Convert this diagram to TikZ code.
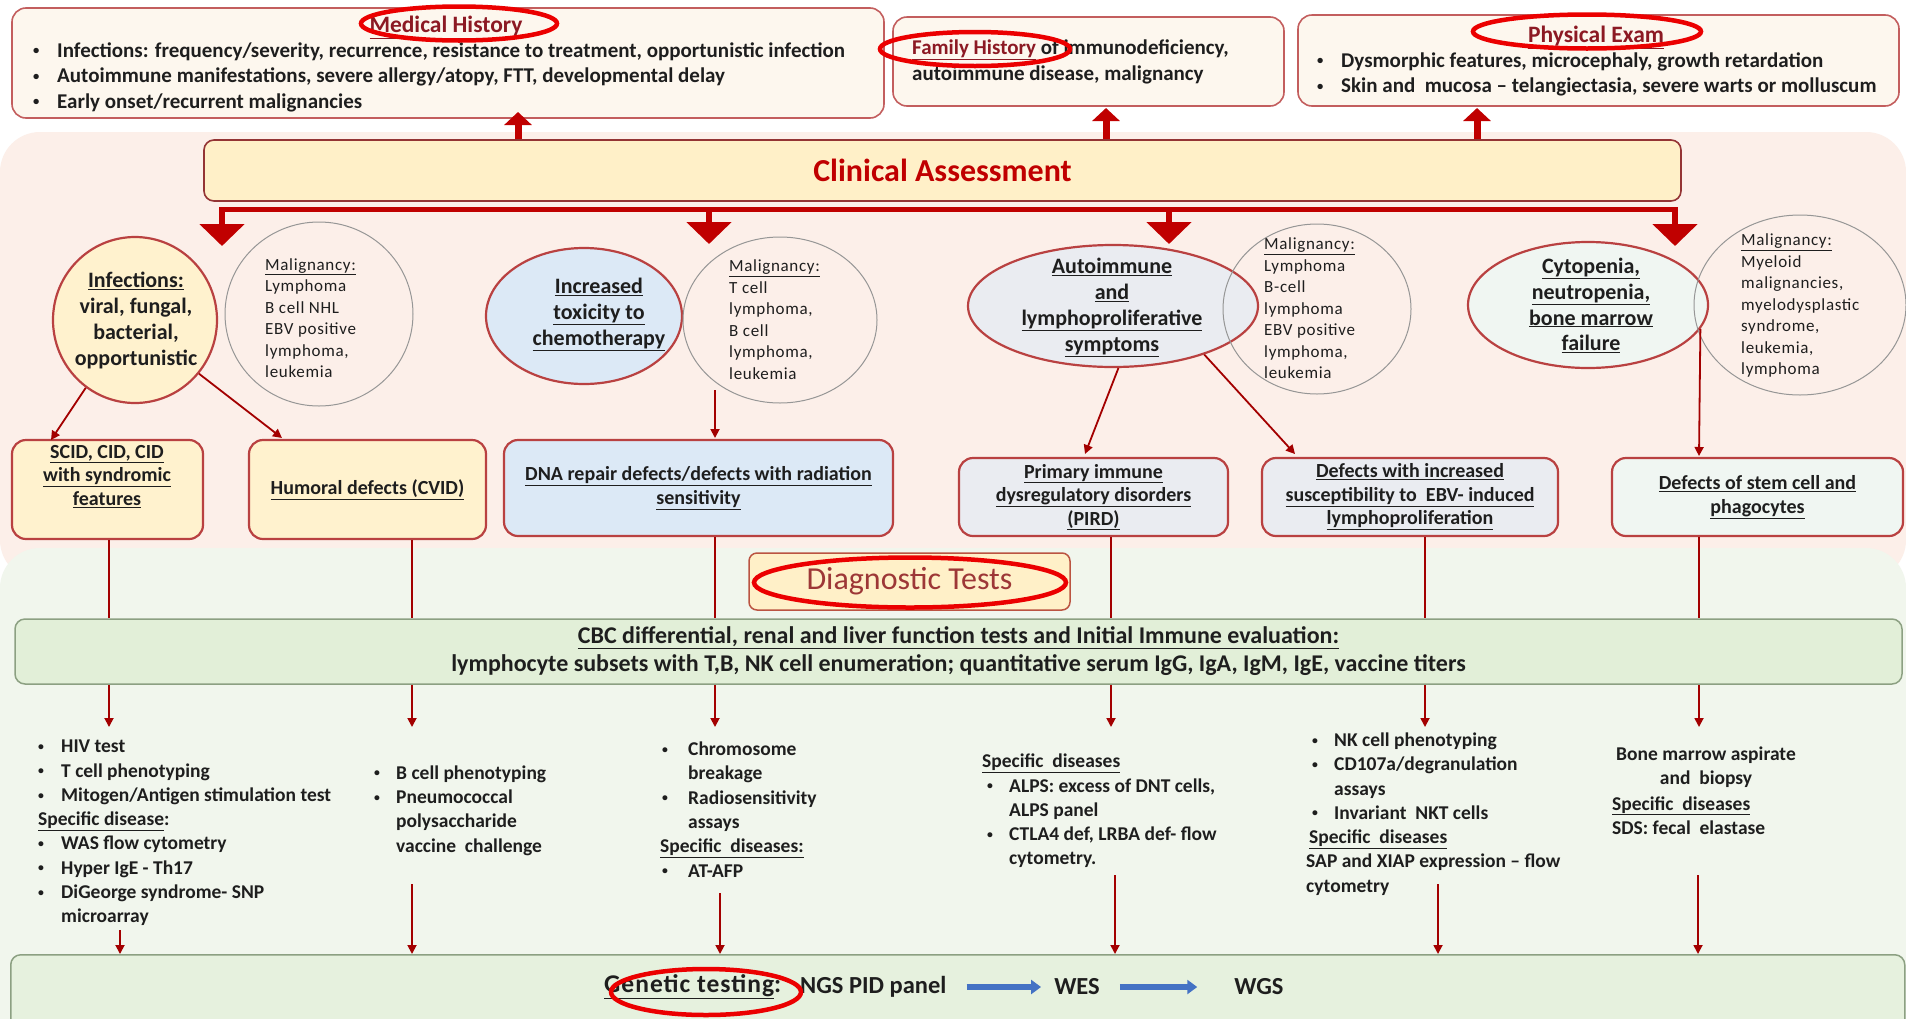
\documentclass[tikz,border=0pt]{standalone}
\usepackage{fontspec}
\setmainfont{Carlito}
\newfontfamily\malfont[LetterSpace=4]{Carlito}
\newfontfamily\widefont[LetterSpace=4]{Carlito}
\usetikzlibrary{arrows.meta,shapes.geometric}
\definecolor{bred}{RGB}{185,65,65}
\definecolor{dred}{RGB}{192,0,0}
\definecolor{tred}{RGB}{140,25,35}
\definecolor{ellred}{RGB}{235,0,0}
\definecolor{cream}{RGB}{253,247,238}
\definecolor{cayel}{RGB}{255,240,200}
\definecolor{pinkbg}{RGB}{252,239,233}
\definecolor{greenbg}{RGB}{241,246,237}
\definecolor{yel}{RGB}{255,242,206}
\definecolor{lblue}{RGB}{220,233,246}
\definecolor{lgray}{RGB}{234,236,241}
\definecolor{lgreen}{RGB}{240,246,242}
\definecolor{cbcfill}{RGB}{226,239,216}
\definecolor{genfill}{RGB}{230,241,222}
\definecolor{cbcdraw}{RGB}{140,160,130}
\definecolor{ablue}{RGB}{68,114,196}
\definecolor{mgray}{RGB}{150,150,150}
\definecolor{txt}{RGB}{30,30,30}
\newcommand{\uln}[1]{\underline{#1}}
\newcommand{\bitem}[2][24pt]{\makebox[#1][l]{\raisebox{0.12em}{\scalebox{0.6}{\textbullet}}}#2}
\newcommand{\tfont}{\fontsize{21}{25.5}\selectfont\bfseries}
\newcommand{\ttfont}{\fontsize{23.5}{26}\selectfont\bfseries}
\newcommand{\cfont}{\fontsize{22}{25.8}\selectfont\bfseries}
\newcommand{\mfont}{\malfont\fontsize{17}{21.5}\selectfont}
\newcommand{\dfont}{\fontsize{20}{23.5}\selectfont\bfseries}
\newcommand{\lfont}{\fontsize{19.5}{24.3}\selectfont\bfseries}
\newcommand{\gfont}{\fontsize{24.5}{28}\selectfont\bfseries}
\tikzset{
  every node/.style={text=txt, inner sep=0pt},
  topbox/.style={draw=bred!85, fill=cream, rounded corners=14pt, line width=1.6pt},
  cabox/.style={draw=bred!80!black, fill=cayel, rounded corners=10pt, line width=1.6pt},
  defbox/.style={draw=bred, rounded corners=14pt, line width=2.2pt},
  circ/.style={ellipse, draw=bred, line width=2.2pt},
  mal/.style={ellipse, draw=mgray, line width=1pt},
  thinarr/.style={draw=dred!85!black, line width=1.8pt, -{Triangle[width=9pt,length=9pt]}},
  vline/.style={draw=dred!85!black, line width=1.8pt},
  upar/.style={draw=dred, line width=7pt, -{Triangle[width=27pt,length=13pt]}},
  downar/.style={draw=dred, line width=6pt, -{Triangle[width=44pt,length=22pt]}},
  redell/.style={ellipse, draw=ellred, line width=4.5pt},
  bluearr/.style={draw=ablue, line width=6pt, -{Triangle[width=14pt,length=10pt]}},
  greenbox/.style={draw=cbcdraw, rounded corners=10pt, line width=1.5pt}
}
\begin{document}
\begin{tikzpicture}[x=1pt,y=-1pt]
\useasboundingbox (0,0) rectangle (1906,1018);
\clip (0,0) rectangle (1906,1018);
\fill[white] (0,0) rectangle (1906,1018);
\fill[pinkbg, rounded corners=40pt] (0,132) rectangle (1906,580);
\fill[greenbg, rounded corners=40pt] (0,548) rectangle (1906,1060);

% ---------- top boxes
\node[topbox, minimum width=872pt, minimum height=110pt] (mh) at (448,63) {};
\node[topbox, minimum width=391pt, minimum height=89pt] (fh) at (1088.5,61.5) {};
\node[topbox, minimum width=601pt, minimum height=91pt] (pe) at (1598.5,60.5) {};

\node[font=\ttfont, text=tred] (mht) at (446,27.5) {\uln{Medical History}};
\node[font=\tfont, align=left, anchor=west] (mhl) at (33,77) {%
\bitem{Infections: frequency/severity, recurrence, resistance to treatment, opportunistic infection}\\
\bitem{Autoimmune manifestations, severe allergy/atopy, FTT, developmental delay}\\
\bitem{Early onset/recurrent malignancies}};
\node[font=\tfont, align=left, anchor=west] (fht) at (912,62) {\textcolor{tred}{\uln{Family History}} of immunodeficiency,\\autoimmune disease, malignancy};
\node[font=\ttfont, text=tred] (pet) at (1596,37.5) {\uln{Physical Exam}};
\node[font=\tfont, align=left, anchor=west] (pel) at (1317,74.5) {%
\bitem{Dysmorphic features, microcephaly, growth retardation}\\
\bitem{Skin and\ \ mucosa -- telangiectasia, severe warts or molluscum}};

% ---------- clinical assessment
\node[cabox, minimum width=1477pt, minimum height=61pt, font=\fontsize{32}{34}\selectfont\bfseries, text=dred] (ca) at (942.5,170.5) {Clinical Assessment};
\coordinate (u1) at (518,112);
\coordinate (u2) at (1106,108);
\coordinate (u3) at (1477,108);
\draw[upar] (ca.north -| u1) -- (u1);
\draw[upar] (ca.north -| u2) -- (u2);
\draw[upar] (ca.north -| u3) -- (u3);

\coordinate (hl) at (219,209);
\coordinate (hr) at (1678,209);
\draw[dred, line width=5pt] (hl) -- (hr);
\coordinate (d1) at (222,246);
\coordinate (d2) at (709,244);
\coordinate (d3) at (1169,244);
\coordinate (d4) at (1675,246);
\draw[downar] (d1 |- hl) -- (d1);
\draw[downar] (d2 |- hl) -- (d2);
\draw[downar] (d3 |- hl) -- (d3);
\draw[downar] (d4 |- hl) -- (d4);

% ---------- circles
\node[circ, fill=yel, minimum width=164pt, minimum height=166pt] (c1) at (135,320) {};
\node[circ, fill=lblue, minimum width=196pt, minimum height=136pt] (c2) at (584,316) {};
\node[circ, fill=lgray, minimum width=290pt, minimum height=122pt] (c3) at (1113,306) {};
\node[circ, fill=lgreen, minimum width=240pt, minimum height=126pt] (c4) at (1588,305) {};
\node[mal, minimum width=188pt, minimum height=184pt] (m1) at (319,314) {};
\node[mal, minimum width=194pt, minimum height=166pt] (m2) at (780,320) {};
\node[mal, minimum width=188pt, minimum height=170pt] (m3) at (1317,309) {};
\node[mal, minimum width=212pt, minimum height=180pt] (m4) at (1800,305) {};

\node[font=\cfont, align=center] (c1t) at (136,320.5) {\uln{Infections:}\\viral, fungal,\\bacterial,\\opportunistic};
\node[font=\cfont, align=center] (c2t) at (599,314.5) {\uln{Increased}\\\uln{toxicity to}\\\uln{chemotherapy}};
\node[font=\cfont, align=center] (c3t) at (1112,307.5) {\uln{Autoimmune}\\\uln{and}\\\uln{lymphoproliferative}\\\uln{symptoms}};
\node[font=\cfont, align=center] (c4t) at (1591,305.5) {\uln{Cytopenia,}\\\uln{neutropenia,}\\\uln{bone marrow}\\\uln{failure}};

\node[font=\mfont, align=left, anchor=west] (m1t) at (265,318) {\uln{Malignancy:}\\Lymphoma\\B cell NHL\\EBV positive\\lymphoma,\\leukemia};
\node[font=\mfont, align=left, anchor=west] (m2t) at (729,319.5) {\uln{Malignancy:}\\T cell\\lymphoma,\\B cell\\lymphoma,\\leukemia};
\node[font=\mfont, align=left, anchor=west] (m3t) at (1264,308.5) {\uln{Malignancy:}\\Lymphoma\\B-cell\\lymphoma\\EBV positive\\lymphoma,\\leukemia};
\node[font=\mfont, align=left, anchor=west] (m4t) at (1741,305.5) {\uln{Malignancy:}\\Myeloid\\malignancies,\\myelodysplastic\\syndrome,\\leukemia,\\lymphoma};

% ---------- defect boxes
\node[defbox, fill=yel, minimum width=191pt, minimum height=99pt] (scid) at (107.5,489.5) {};
\node[font=\dfont, align=center] (scidt) at (107,476.5) {\uln{SCID, CID, CID}\\\uln{with syndromic}\\\uln{features}};
\node[defbox, fill=yel, minimum width=237pt, minimum height=99pt, font=\dfont] (hum) at (367.5,489.5) {\uln{Humoral defects (CVID)}};
\node[defbox, fill=lblue, minimum width=389pt, minimum height=96pt, font=\dfont, align=center] (dna) at (698.5,488) {\uln{DNA repair defects/defects with radiation}\\\uln{sensitivity}};
\node[defbox, fill=lgray, minimum width=269pt, minimum height=78pt, font=\dfont, align=center] (pird) at (1093.5,497) {\uln{Primary immune}\\\uln{dysregulatory disorders}\\\uln{(PIRD)}};
\node[defbox, fill=lgray, minimum width=296pt, minimum height=78pt, font=\dfont, align=center] (ebv) at (1410,497) {\uln{Defects with increased}\\\uln{susceptibility to\ \ EBV- induced}\\\uln{lymphoproliferation}};
\node[defbox, fill=lgreen, minimum width=291pt, minimum height=78pt, font=\dfont, align=center] (stem) at (1757.5,497) {\uln{Defects of stem cell and}\\\uln{phagocytes}};

\coordinate (e1) at (51,440);
\coordinate (e2) at (282,438);
\coordinate (s3) at (715,390);
\coordinate (e3) at (715,438);
\coordinate (e4) at (1085,454);
\coordinate (e5) at (1295,454);
\coordinate (e6) at (1699,456);
\draw[thinarr] (c1.234) -- (e1);
\draw[thinarr] (c1.-40) -- (e2);
\draw[thinarr] (s3) -- (e3);
\draw[thinarr] (c3.-85) -- (e4);
\draw[thinarr] (c3.-28) -- (e5);
\draw[thinarr] (c4.-12) -- (e6);

% ---------- diagnostic tests
\node[greenbox, fill=cbcfill, minimum width=1887pt, minimum height=65pt, font=\fontsize{24}{28}\selectfont\bfseries, align=center] (cbc) at (958.5,651.5) {\uln{CBC differential, renal and liver function tests and Initial Immune evaluation:}\\lymphocyte subsets with T,B, NK cell enumeration; quantitative serum IgG, IgA, IgM, IgE, vaccine titers};
\node[draw=bred!70!brown, fill=cayel, rounded corners=8pt, line width=1.5pt, minimum width=321pt, minimum height=57pt, font=\fontsize{32}{34}\selectfont, text=bred!85!black] (dt) at (909.5,581.5) {Diagnostic Tests};

\coordinate (v1) at (109,0);
\coordinate (v2) at (412,0);
\coordinate (v3) at (715,0);
\coordinate (v4) at (1111,0);
\coordinate (v5) at (1425,0);
\coordinate (v6) at (1699,0);
\coordinate (tip) at (0,727);
\draw[vline] (v1 |- scid.south) -- (v1 |- cbc.north);
\draw[vline] (v2 |- hum.south) -- (v2 |- cbc.north);
\draw[vline] (v3 |- dna.south) -- (v3 |- cbc.north);
\draw[vline] (v4 |- pird.south) -- (v4 |- cbc.north);
\draw[vline] (v5 |- ebv.south) -- (v5 |- cbc.north);
\draw[vline] (v6 |- stem.south) -- (v6 |- cbc.north);
\draw[thinarr] (v1 |- cbc.south) -- (v1 |- tip);
\draw[thinarr] (v2 |- cbc.south) -- (v2 |- tip);
\draw[thinarr] (v3 |- cbc.south) -- (v3 |- tip);
\draw[thinarr] (v4 |- cbc.south) -- (v4 |- tip);
\draw[thinarr] (v5 |- cbc.south) -- (v5 |- tip);
\draw[thinarr] (v6 |- cbc.south) -- (v6 |- tip);

% ---------- test lists
\node[font=\lfont, align=left, anchor=west] (l1) at (38,833) {%
\bitem[23pt]{HIV test}\\
\bitem[23pt]{T cell phenotyping}\\
\bitem[23pt]{Mitogen/Antigen stimulation test}\\
\uln{Specific disease}:\\
\bitem[23pt]{WAS flow cytometry}\\
\bitem[23pt]{Hyper IgE - Th17}\\
\bitem[23pt]{DiGeorge syndrome- SNP}\\
\hspace*{23pt}microarray};
\node[font=\lfont, align=left, anchor=west] (l2) at (374,810.5) {%
\bitem[22pt]{B cell phenotyping}\\
\bitem[22pt]{Pneumococcal}\\
\hspace*{22pt}polysaccharide\\
\hspace*{22pt}vaccine\ \ challenge};
\node[font=\lfont, align=left, anchor=west] (l3) at (660,809.5) {%
\hspace*{2pt}\bitem[26pt]{Chromosome}\\
\hspace*{28pt}breakage\\
\hspace*{2pt}\bitem[26pt]{Radiosensitivity}\\
\hspace*{28pt}assays\\
\uln{Specific\ \ diseases:}\\
\hspace*{2pt}\bitem[26pt]{AT-AFP}};
\node[font=\lfont, align=left, anchor=west] (l4) at (982,811) {%
\uln{Specific\ \ diseases}\\
\hspace*{5pt}\bitem[22pt]{ALPS: excess of DNT cells,}\\
\hspace*{27pt}ALPS panel\\
\hspace*{5pt}\bitem[22pt]{CTLA4 def, LRBA def- flow}\\
\hspace*{27pt}cytometry.};
\node[font=\lfont, align=left, anchor=west] (l5) at (1306,814) {%
\hspace*{6pt}\bitem[22pt]{NK cell phenotyping}\\
\hspace*{6pt}\bitem[22pt]{CD107a/degranulation}\\
\hspace*{28pt}assays\\
\hspace*{6pt}\bitem[22pt]{Invariant\ \ NKT cells}\\
\hspace*{3pt}\uln{Specific\ \ diseases}\\
SAP and XIAP expression -- flow\\
cytometry};
\node[font=\lfont, align=center] (l6a) at (1706,767) {Bone marrow aspirate\\and\ \ biopsy};
\node[font=\lfont, align=left, anchor=west] (l6b) at (1612,815.5) {\uln{Specific\ \ diseases}\\SDS:\ fecal\ \ elastase};

\node[greenbox, fill=genfill, minimum width=1894pt, minimum height=80pt, anchor=north west] (gen) at (10,954) {};
\coordinate (g1) at (120,930);
\coordinate (g2) at (412,884);
\coordinate (g3) at (720,893);
\coordinate (g4) at (1115,875);
\coordinate (g5) at (1438,884);
\coordinate (g6) at (1698,875);
\draw[thinarr] (g1) -- (g1 |- gen.north);
\draw[thinarr] (g2) -- (g2 |- gen.north);
\draw[thinarr] (g3) -- (g3 |- gen.north);
\draw[thinarr] (g4) -- (g4 |- gen.north);
\draw[thinarr] (g5) -- (g5 |- gen.north);
\draw[thinarr] (g6) -- (g6 |- gen.north);

\node[font=\widefont\fontsize{25.5}{28}\selectfont\bfseries, anchor=west] (gt) at (604,987) {\uln{Genetic testing}:};
\node[font=\gfont, anchor=west] (ngs) at (800,987) {NGS PID panel};
\node[font=\gfont] (wes) at (1077,987) {WES};
\node[font=\gfont] (wgs) at (1259,987) {WGS};
\draw[bluearr] (ngs.east) ++(20,0) -- ([xshift=-13pt]wes.west);
\draw[bluearr] (wes.east) ++(20,0) -- ([xshift=-37pt]wgs.west);

% ---------- red highlight ellipses
\node[redell, minimum width=196pt, minimum height=34pt] (r1) at (459,23.5) {};
\node[redell, minimum width=190pt, minimum height=34pt] (r2) at (975,49) {};
\node[redell, minimum width=228pt, minimum height=34pt] (r3) at (1587,31.5) {};
\node[redell, minimum width=312pt, minimum height=50pt] (r4) at (910,582.5) {};
\node[redell, minimum width=190pt, minimum height=46pt] (r5) at (706,992) {};
\end{tikzpicture}
\end{document}
